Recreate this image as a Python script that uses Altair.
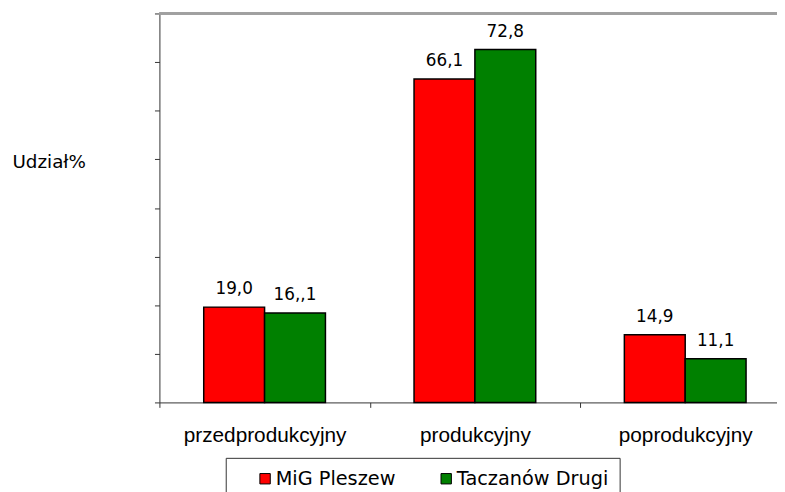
import altair as alt
import pandas as pd

categories = ["przedprodukcyjny", "produkcyjny", "poprodukcyjny"]
series = ["MiG Pleszew", "Taczanów Drugi"]
mig_values = [19.6, 66.5, 13.9]
tacz_values = [18.4, 72.6, 9.0]
mig_labels = ["19,0", "66,1", "14,9"]
tacz_labels = ["16,,1", "72,8", "11,1"]
colors = ["#FF0000", "#008000"]
y_ticks = [0, 10, 20, 30, 40, 50, 60, 70, 80]

rows = []
for c, v, l in zip(categories, mig_values, mig_labels):
    rows.append({"cat": c, "series": series[0], "value": v, "label": l})
for c, v, l in zip(categories, tacz_values, tacz_labels):
    rows.append({"cat": c, "series": series[1], "value": v, "label": l})
df = pd.DataFrame(rows)

x_enc = alt.X(
    "cat:N",
    sort=categories,
    scale=alt.Scale(range=[0, 637.5], paddingInner=0, paddingOuter=0),
    axis=alt.Axis(
        title=None,
        tickBand="extent",
        tickSize=5,
        labelPadding=17,
        labelFont="Liberation Sans",
        labelFontSize=21,
        labelColor="black",
        labelAngle=0,
        domainColor="#333333",
        tickColor="#333333",
        grid=False,
    ),
)
xoff_enc = alt.XOffset(
    "series:N", sort=series, scale=alt.Scale(paddingInner=0, paddingOuter=0.728)
)
y_enc = alt.Y(
    "value:Q",
    scale=alt.Scale(domain=[0, 80], nice=False),
    axis=alt.Axis(
        values=y_ticks,
        labels=False,
        tickSize=5,
        grid=False,
        domainColor="#333333",
        tickColor="#333333",
        title="Udział%",
        titleAngle=0,
        titleAlign="left",
        titleBaseline="alphabetic",
        titleX=-149,
        titleY=156,
        titleFont="DejaVu Sans",
        titleFontSize=18.5,
        titleFontWeight="normal",
        titleColor="black",
    ),
)

bars = alt.Chart(df).mark_bar(stroke="black", strokeWidth=1.5).encode(
    x=x_enc,
    xOffset=xoff_enc,
    y=y_enc,
    color=alt.Color(
        "series:N",
        sort=series,
        scale=alt.Scale(domain=series, range=colors),
        legend=alt.Legend(
            title=None,
            orient="none",
            legendX=67,
            legendY=449,
            direction="horizontal",
            symbolType="square",
            symbolSize=110,
            symbolStrokeColor="black",
            symbolStrokeWidth=1,
            symbolOffset=19,
            labelOffset=1,
            labelFont="DejaVu Sans",
            labelFontSize=19.5,
            labelColor="black",
            columnPadding=22,
            padding=11,
            strokeColor="#333333",
        ),
    ),
)

texts = alt.Chart(df).mark_text(
    baseline="alphabetic", dy=-13, font="DejaVu Sans", fontSize=17, color="black"
).encode(x=alt.X("cat:N", sort=categories), xOffset=alt.XOffset("series:N", sort=series), y="value:Q", text="label:N")

top_rule = alt.Chart(df).mark_rule(color="#a0a0a0", strokeWidth=2).encode(
    x=alt.value(0), x2=alt.value(640), y=alt.value(0)
)

chart = (
    alt.layer(bars, texts, top_rule)
    .properties(
        width=624,
        height=393,
        autosize=alt.AutoSizeParams(type="none"),
        padding={"left": 153, "top": 3, "right": 0, "bottom": 88},
    )
    .configure_view(strokeWidth=0)
)

chart.save("out.html", embed_options={"renderer": "svg", "actions": False})
